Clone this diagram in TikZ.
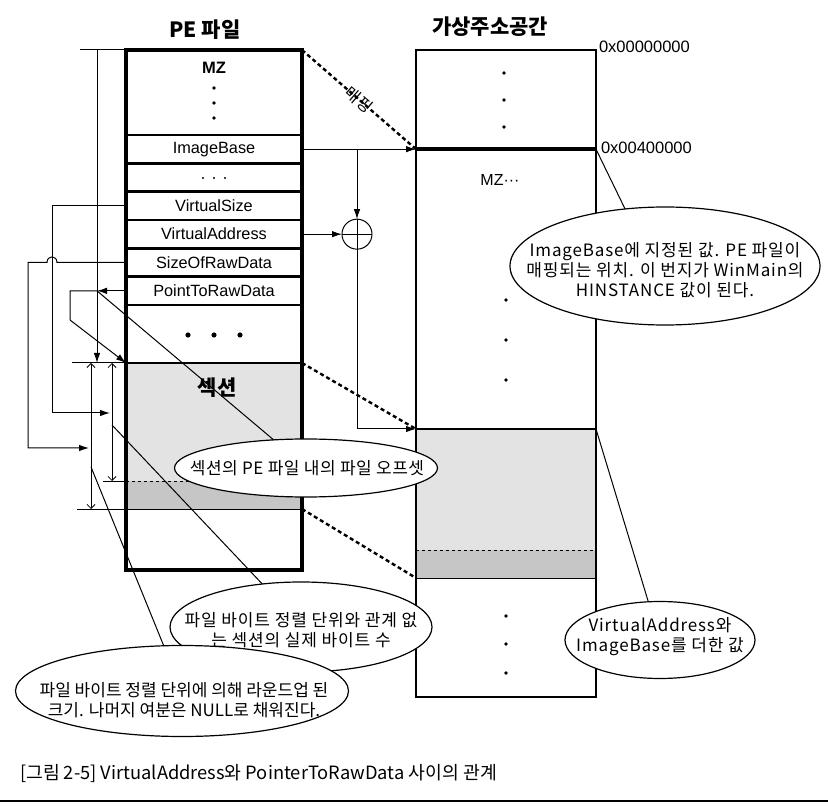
\documentclass[tikz,border=0pt]{standalone}
\usepackage{fontspec}
\usepackage{graphicx}
\setmainfont{Liberation Sans}
\newfontfamily\kr{Noto Sans CJK KR}
\newfontfamily\krw[LetterSpace=5]{Noto Sans CJK KR}
\newfontfamily\krm[LetterSpace=3]{Noto Sans CJK KR}
\usetikzlibrary{arrows.meta,shapes.geometric}
\begin{document}
\begin{tikzpicture}[x=1pt,y=-1pt,
  every node/.style={inner sep=0pt,outer sep=0pt},
  pe row/.style={draw,line width=2.5pt,minimum width=176pt,minimum height=28.33pt,font=\fontsize{16.3}{18}\selectfont},
  ln/.style={line width=1pt},
  arr/.style={-{Latex[length=10pt,width=6.5pt]}},
  dimline/.style={line width=0.8pt,{Straight Barb[length=4pt,width=8pt]}-{Straight Barb[length=4pt,width=8pt]}},
  mapdash/.style={line width=2.4pt,dash pattern=on 4pt off 3pt},
  callout/.style={draw,ellipse,line width=1.2pt,fill=white},
  callouttext/.style={align=center,font=\krw\fontsize{17}{20}\selectfont},
  titletext/.style={font=\kr\bfseries\fontsize{21}{24}\selectfont},
  addr/.style={anchor=west,font=\fontsize{16.5}{18}\selectfont}
]
\useasboundingbox (0,0) rectangle (828,810);

% titles
\node[titletext] (t1) at (205,30) {PE 파일};
\node[titletext] (t2) at (490,27) {가상주소공간};

% ---------- PE file ----------
\fill[gray!22] (126,363) rectangle (302,481);
\fill[gray!45] (126,481) rectangle (302,509);
\draw[line width=0.8pt,dashed] (126,481) -- (302,481);
\draw[line width=0.8pt] (126,509) -- (302,509);
\draw[line width=2.5pt] (126,363) -- (302,363);

\node[pe row,minimum height=85pt] (mzrow) at (214,92.5) {};
\node[pe row] (imgbase) at (214,149.17) {ImageBase};
\node[pe row] (hdots) at (214,177.5) {};
\node[pe row] (vsize) at (214,205.83) {VirtualSize};
\node[pe row] (vaddr) at (214,234.17) {VirtualAddress};
\node[pe row] (sizeraw) at (214,262.5) {SizeOfRawData};
\node[pe row] (ptrraw) at (214,290.83) {PointToRawData};
\node[pe row,minimum height=58pt] (more) at (214,334) {};
\node[draw,line width=3.5pt,minimum width=176pt,minimum height=520pt] (pe) at (214,310) {};

\node[font=\bfseries\fontsize{16.5}{18}\selectfont] (mz) at (214,68) {MZ};
\fill (214,88) circle (1.8pt) (214,103) circle (1.8pt) (214,118) circle (1.8pt);
\fill (203,178) circle (1.1pt) (214,178) circle (1.1pt) (225,178) circle (1.1pt);
\fill (188,335) circle (2.6pt) (214,335) circle (2.6pt) (240,335) circle (2.6pt);
\node[font=\kr\bfseries\fontsize{21}{24}\selectfont] (sec) at (217,388) {섹션};

% ---------- virtual address space ----------
\fill[gray!22] (416,429) rectangle (596,550);
\fill[gray!45] (416,550) rectangle (596,578);
\draw[line width=0.8pt,dashed] (416,550) -- (596,550);
\draw[line width=0.8pt] (416,578) -- (596,578);
\node[draw,line width=1.2pt,minimum width=180pt,minimum height=647pt] (va) at (506,373.5) {};
\coordinate (vsecnw) at (416,429);
\coordinate (vsecne) at (596,429);
\draw[line width=2.5pt] (416,578) -- (vsecnw) -- (vsecne) -- (596,578);

\coordinate (ib) at (imgbase.east -| va.west);
\coordinate (ibr) at (imgbase.east -| va.east);
\draw[line width=4pt] (ib) -- (ibr);

\node[addr] (a0) at (599,47) {0x00000000};
\node[addr] (a4) at (601,148) {0x00400000};
\node[font=\fontsize{16}{18}\selectfont] (vmz) at (500,180) {MZ···};

\fill (504,73) circle (1.8pt) (504,100) circle (1.8pt) (504,127) circle (1.8pt);
\fill (506,300) circle (1.8pt) (506,340) circle (1.8pt) (506,380) circle (1.8pt);
\fill (506,616) circle (1.8pt) (506,644) circle (1.8pt) (506,673) circle (1.8pt);

% ---------- plus ----------
\node[draw,circle,line width=1pt,minimum size=30pt] (plus) at (357,234.17) {};
\draw[ln] (plus.north) -- (plus.south) (plus.west) -- (plus.east);
\draw[ln,arr] (imgbase.east) -- (ib);
\draw[ln,arr] (imgbase.east -| plus.north) -- (plus.north);
\draw[ln,arr] (vaddr.east) -- (plus.west);
\draw[ln,arr] (plus.south) -- (plus.south |- vsecnw) -- (vsecnw);

% ---------- mapping ----------
\draw[mapdash] (pe.north east) -- node[sloped,font=\kr\fontsize{16}{18}\selectfont] (mapl) {매핑} (ib);
\draw[mapdash] (302,363) -- (vsecnw);
\draw[mapdash] (302,509) -- (416,578);

% ---------- left side ----------
\coordinate (top0) at (80,50);
\coordinate (secnw) at (126,363);
\draw[ln] (top0) -- (pe.north west);
\draw[ln,arr] (97,50) -- (97,363);
\draw[ln] (72,363) -- (secnw);
\draw[ln] (103,481) -- (126,481);
\draw[ln] (77,509) -- (126,509);
\draw[dimline] (91,363) -- (91,509);
\draw[dimline] (112,363) -- (112,481);
\draw[ln,arr] (vsize.west) -- (52,205.83) -- (52,413) -- (110,413);
\draw[ln,arr] (sizeraw.west) -- (57,262.5) .. controls (57,255) and (47,255) .. (47,262.5) -- (28,262.5) -- (28,448) -- (89,448);
\coordinate (offp) at (97,290.83);
\draw[ln,arr] (ptrraw.west) -- (offp);
\draw[ln,arr] (offp) -- (70,290.83) -- (70,320) -- (secnw);
\coordinate (vsp) at (112,425);
\coordinate (srp) at (91,467);

% ---------- callouts ----------
\node[callout,minimum width=310pt,minimum height=118pt] (e1) at (665,266) {};
\node[callouttext] (e1t) at (665,270) {ImageBase에 지정된 값. PE 파일이\\매핑되는 위치. 이 번지가 WinMain의\\HINSTANCE 값이 된다.};
\node[callout,minimum width=263pt,minimum height=58pt] (eo) at (306,468) {};
\node[callouttext,font=\krm\fontsize{17}{20}\selectfont] (eot) at (307,468) {섹션의 PE 파일 내의 파일 오프셋};
\node[callout,minimum width=262pt,minimum height=90pt] (e2) at (301,627) {};
\node[callouttext] (e2t) at (301,630) {파일 바이트 정렬 단위와 관계 없\\는 섹션의 실제 바이트 수};
\node[callout,minimum width=333pt,minimum height=91pt] (e3) at (182,691) {};
\node[callouttext,font=\kr\fontsize{17}{19.5}\selectfont] (e3t) at (184,700) {파일 바이트 정렬 단위에 의해 라운드업 된\\크기. 나머지 여분은 NULL로 채워진다.};
\node[callout,minimum width=190pt,minimum height=77pt] (e4) at (660,640) {};
\node[callouttext] (e4t) at (660,637) {VirtualAddress와\\ImageBase를 더한 값};

\draw[ln] (ibr) -- (e1.125);
\draw[ln] (offp) -- (eo.139.7);
\draw[ln] (vsp) -- (e2.132.2);
\draw[ln] (srp) -- (e3.112.9);
\draw[ln] (vsecne) -- (e4.107.5);

% ---------- caption ----------
\node[anchor=west,font=\kr\fontsize{18}{20}\selectfont] (cap) at (20,773) {\resizebox{477pt}{!}{[그림 2-5] VirtualAddress와 PointerToRawData 사이의 관계}};
\coordinate (rl) at (0,801);
\coordinate (rr) at (828,801);
\draw[line width=2.5pt] (rl) -- (rr);
\end{tikzpicture}
\end{document}
